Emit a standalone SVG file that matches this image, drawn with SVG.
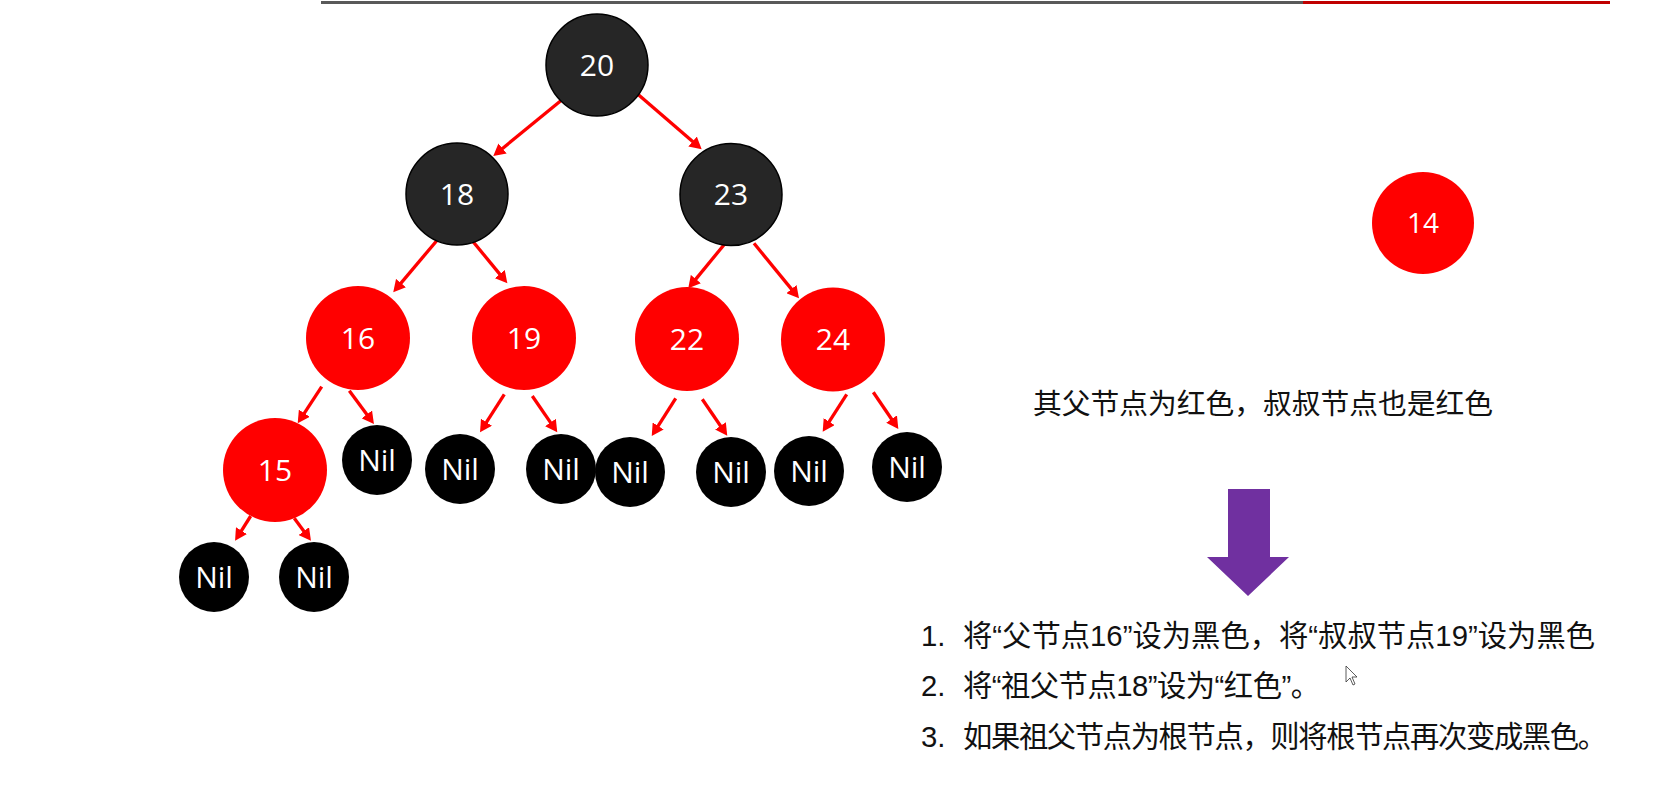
<svg xmlns="http://www.w3.org/2000/svg" width="1663" height="803" viewBox="0 0 1663 803">
<style>
.blk{fill:#262626;stroke:#000;stroke-width:1.5}
.red{fill:#ff0000}
.nil{fill:#000}
.lbl{font-family:"Open Sans","Liberation Sans",sans-serif;font-size:30px;fill:#fff;text-anchor:middle;dominant-baseline:central}
.e{stroke:#ff0000;stroke-width:3.3;fill:none;marker-end:url(#ah)}
.cn{font-family:"Liberation Sans","Noto Sans CJK SC",sans-serif;fill:#111}
</style>
<defs>
<marker id="ah" markerUnits="userSpaceOnUse" markerWidth="13" markerHeight="13" refX="2" refY="6.5" orient="auto">
<path d="M0,0 L12,6.5 L0,13 z" fill="#ff0000"/>
</marker>
</defs>
<rect width="1663" height="803" fill="#fff"/>
<g id="topbar">
<rect x="321" y="1" width="982" height="3" fill="#595959"/>
<rect x="1303" y="1" width="307" height="3" fill="#c00000"/>
</g>
<g id="connectors">
<line class="e" x1="561.7" y1="100" x2="501" y2="149.7"/>
<line class="e" x1="636.7" y1="93.3" x2="694.1" y2="142.8"/>
<line class="e" x1="436.7" y1="240.7" x2="399.7" y2="284.6"/>
<line class="e" x1="471.7" y1="240" x2="501" y2="275.6"/>
<line class="e" x1="321.7" y1="386.7" x2="303.2" y2="414.9"/>
<line class="e" x1="349.3" y1="390.7" x2="368" y2="416"/>
<line class="e" x1="504.3" y1="394.3" x2="485.4" y2="423.9"/>
<line class="e" x1="532.3" y1="396" x2="551.6" y2="424.1"/>
<line class="e" x1="250.7" y1="516" x2="240.4" y2="532.3"/>
<line class="e" x1="294.3" y1="518.3" x2="305" y2="532.7"/>
<line class="e" x1="725.7" y1="242.7" x2="694.6" y2="280.6"/>
<line class="e" x1="754" y1="243.3" x2="792.7" y2="290.6"/>
<line class="e" x1="675.7" y1="398.3" x2="657.1" y2="427.6"/>
<line class="e" x1="702.3" y1="399.3" x2="721.6" y2="427.5"/>
<line class="e" x1="846.7" y1="394.3" x2="828.1" y2="423.3"/>
<line class="e" x1="873.3" y1="392.3" x2="892.7" y2="420.7"/>
</g>
<g id="n20"><circle class="blk" cx="597" cy="65" r="51"/><text class="lbl" x="597" y="64">20</text></g>
<g id="n18"><circle class="blk" cx="457" cy="194" r="51"/><text class="lbl" x="457" y="193">18</text></g>
<g id="n23"><circle class="blk" cx="731" cy="194.5" r="51"/><text class="lbl" x="731" y="193.5">23</text></g>
<g id="n16"><circle class="red" cx="358" cy="338" r="52"/><text class="lbl" x="358" y="337">16</text></g>
<g id="n19"><circle class="red" cx="524" cy="338" r="52"/><text class="lbl" x="524" y="337">19</text></g>
<g id="n22"><circle class="red" cx="687" cy="339" r="52"/><text class="lbl" x="687" y="338">22</text></g>
<g id="n24"><circle class="red" cx="833" cy="339.5" r="52"/><text class="lbl" x="833" y="338.5">24</text></g>
<g id="n15"><circle class="red" cx="275" cy="470" r="52"/><text class="lbl" x="275" y="469">15</text></g>
<g id="nil16r"><circle class="nil" cx="377" cy="460" r="35"/><text class="lbl" x="377" y="459">Nil</text></g>
<g id="nil19l"><circle class="nil" cx="460" cy="469" r="35"/><text class="lbl" x="460" y="468">Nil</text></g>
<g id="nil19r"><circle class="nil" cx="561" cy="469" r="35"/><text class="lbl" x="561" y="468">Nil</text></g>
<g id="nil22l"><circle class="nil" cx="630" cy="472" r="35"/><text class="lbl" x="630" y="471">Nil</text></g>
<g id="nil22r"><circle class="nil" cx="731" cy="472" r="35"/><text class="lbl" x="731" y="471">Nil</text></g>
<g id="nil24l"><circle class="nil" cx="809" cy="471" r="35"/><text class="lbl" x="809" y="470">Nil</text></g>
<g id="nil24r"><circle class="nil" cx="907" cy="467" r="35"/><text class="lbl" x="907" y="466">Nil</text></g>
<g id="nil15l"><circle class="nil" cx="214" cy="577" r="35"/><text class="lbl" x="214" y="576">Nil</text></g>
<g id="nil15r"><circle class="nil" cx="314" cy="577" r="35"/><text class="lbl" x="314" y="576">Nil</text></g>
<g id="n14"><circle class="red" cx="1423" cy="223" r="51"/><text class="lbl" x="1423" y="222" style="font-size:28px">14</text></g>
<g id="caption"><text class="cn" x="1033" y="414" style="font-size:28.75px">其父节点为红色，叔叔节点也是红色</text></g>
<g id="bigarrow"><path d="M1228,489 L1270,489 L1270,557 L1289,557 L1248,596 L1207,557 L1228,557 z" fill="#7030a0"/></g>
<g id="steps" class="cn" style="font-size:29.3px">
<text x="921" y="646">1.</text><text x="963" y="646" textLength="632" lengthAdjust="spacing">将“父节点16”设为黑色，将“叔叔节点19”设为黑色</text>
<text x="921" y="696">2.</text><text x="963" y="696" textLength="357" lengthAdjust="spacing">将“祖父节点18”设为“红色”。</text>
<text x="921" y="747">3.</text><text x="963" y="747" textLength="644" lengthAdjust="spacing">如果祖父节点为根节点，则将根节点再次变成黑色。</text>
</g>
<g id="cursor"><path d="M1346,666 L1346,682 L1350,678 L1353,685 L1355,684 L1352,677 L1357,677 z" fill="#fff" stroke="#333" stroke-width="0.8"/></g>
</svg>
